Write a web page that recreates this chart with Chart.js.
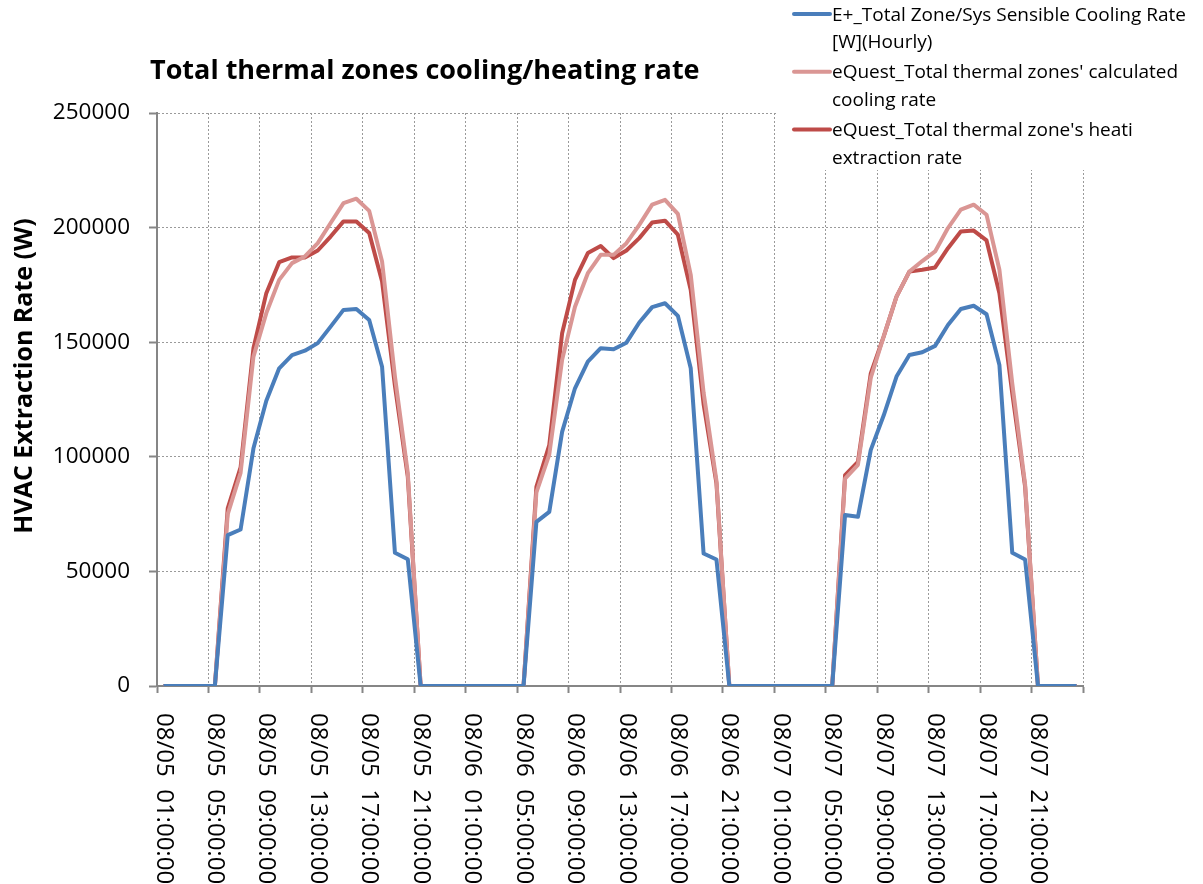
<!DOCTYPE html>
<html>
<head>
<meta charset="utf-8">
<script src="https://cdn.jsdelivr.net/npm/chart.js@4.4.1/dist/chart.umd.min.js"></script>
<style>
  html, body { margin: 0; padding: 0; background: #ffffff; overflow: hidden; }
  #wrap { position: relative; width: 1203px; height: 884px; }
</style>
</head>
<body>
<div id="wrap"><canvas id="chart" width="1203" height="884"></canvas></div>
<script>
// Hourly timestamps, three days
const days = ['08/05', '08/06', '08/07'];
const hours = ['01','02','03','04','05','06','07','08','09','10','11','12',
               '13','14','15','16','17','18','19','20','21','22','23','24'];
const categories = [];
days.forEach(d => hours.forEach(h => categories.push(d + '  ' + h + ':00:00')));

// E+ total zone/system sensible cooling rate [W]
const ePlusSensibleCooling = [
  0, 0, 0, 0, 0, 65800, 68300, 103700, 124500, 138600, 144400, 146300,
  149600, 156800, 164100, 164500, 159700, 139300, 58100, 55300, 0, 0, 0, 0,
  0, 0, 0, 0, 0, 71600, 76000, 110900, 129900, 141500, 147400, 146900,
  149800, 158600, 165300, 167000, 161500, 138600, 57800, 55200, 0, 0, 0, 0,
  0, 0, 0, 0, 0, 74600, 73800, 103000, 118000, 135000, 144400, 145600,
  148400, 157500, 164500, 165900, 162200, 140100, 58100, 55200, 0, 0, 0, 0
];

// eQuest total thermal zones' calculated cooling rate [W]
const eQuestZoneCooling = [
  0, 0, 0, 0, 0, 75000, 93000, 143700, 162700, 177200, 184500, 187400,
  193200, 202000, 210700, 212600, 207300, 185200, 135000, 93000, 0, 0, 0, 0,
  0, 0, 0, 0, 0, 84500, 101000, 142300, 165500, 180100, 188100, 188100,
  193200, 201200, 210000, 212100, 206000, 179400, 128000, 89500, 0, 0, 0, 0,
  0, 0, 0, 0, 0, 90500, 96500, 134500, 152400, 169900, 180800, 185400,
  189600, 199800, 207800, 210000, 205600, 181600, 132000, 88000, 0, 0, 0, 0
];

// eQuest total thermal zones' heat extraction rate [W]
const eQuestExtraction = [
  0, 0, 0, 0, 0, 77500, 95400, 147400, 171400, 184900, 187000, 187000,
  190000, 196100, 202700, 202700, 197600, 176500, 131000, 91300, 0, 0, 0, 0,
  0, 0, 0, 0, 0, 86900, 105100, 153900, 177200, 188900, 192000, 186700,
  190000, 195400, 202200, 203000, 196900, 172800, 123000, 88400, 0, 0, 0, 0,
  0, 0, 0, 0, 0, 92000, 97800, 136400, 152400, 169900, 180800, 181600,
  182600, 191000, 198300, 198700, 194400, 171400, 127700, 86900, 0, 0, 0, 0
];

const yTicks = [0, 50000, 100000, 150000, 200000, 250000];

const seriesNames = [
  ['E+_Total Zone/Sys Sensible Cooling Rate', '[W](Hourly)'],
  ["eQuest_Total thermal zones' calculated", 'cooling rate'],
  ["eQuest_Total thermal zone's heati", 'extraction rate']
];
const seriesColors = ['#4a7ebb', '#da9694', '#be4b48'];

const chartTitle = 'Total thermal zones cooling/heating rate';
const yAxisTitle = 'HVAC Extraction Rate (W)';

const FONT = "'Open Sans', 'Liberation Sans', sans-serif";
const AXIS_GREY = '#868686';
const GRID_GREY = '#9a9a9a';

// Title, rotated axis texts and the wrapped legend
const decorations = {
  id: 'decorations',
  afterDraw(chart) {
    const ctx = chart.ctx;
    const xs = chart.scales.x;
    const area = chart.chartArea;

    // chart title
    ctx.save();
    ctx.fillStyle = '#000';
    ctx.font = 'bold 27px ' + FONT;
    ctx.textAlign = 'left';
    ctx.textBaseline = 'alphabetic';
    ctx.fillText(chartTitle, 150, 79);
    ctx.restore();

    // y axis title
    ctx.save();
    ctx.fillStyle = '#000';
    ctx.font = 'bold 25px ' + FONT;
    ctx.translate(25, 376);
    ctx.rotate(-Math.PI / 2);
    ctx.textAlign = 'center';
    ctx.textBaseline = 'middle';
    ctx.fillText(yAxisTitle, 0, 0);
    ctx.restore();

    // category labels every 4 hours, reading downwards
    ctx.save();
    ctx.fillStyle = '#000';
    ctx.font = '24px ' + FONT;
    ctx.textAlign = 'left';
    ctx.textBaseline = 'middle';
    categories.forEach((lab, i) => {
      if (i % 4 !== 0) return;
      const x = xs.getPixelForValue(i);
      ctx.save();
      ctx.translate(x, area.bottom + 27);
      ctx.rotate(Math.PI / 2);
      ctx.fillText(lab, 0, 0);
      ctx.restore();
    });
    ctx.restore();

    // legend box
    ctx.save();
    ctx.fillStyle = '#ffffff';
    ctx.fillRect(778, 0, 1203 - 778, 170);
    ctx.font = '19px ' + FONT;
    ctx.textAlign = 'left';
    ctx.textBaseline = 'alphabetic';
    chart.data.datasets.forEach((ds, k) => {
      const base = 20.5 + k * 57.8;
      const lineY = base - 6.5;
      ctx.strokeStyle = ds.borderColor;
      ctx.lineWidth = 4;
      ctx.lineCap = 'round';
      ctx.beginPath();
      ctx.moveTo(794, lineY);
      ctx.lineTo(830, lineY);
      ctx.stroke();
      ctx.fillStyle = '#000';
      seriesNames[k].forEach((t, j) => ctx.fillText(t, 832, base + j * 27.6));
    });
    ctx.restore();
  }
};

const datasets = [ePlusSensibleCooling, eQuestZoneCooling, eQuestExtraction].map((vals, k) => ({
  label: seriesNames[k].join(' '),
  data: vals,
  borderColor: seriesColors[k],
  backgroundColor: seriesColors[k],
  borderWidth: 4,
  borderJoinStyle: 'round',
  pointRadius: 0,
  tension: 0,
  fill: false
}));

const everyFourth = c => (c.index === undefined || c.index % 4 === 0);

new Chart(document.getElementById('chart'), {
  type: 'line',
  data: { labels: categories, datasets },
  options: {
    responsive: false,
    animation: false,
    events: [],
    layout: { padding: { left: 0, top: 113, right: 120, bottom: 0 } },
    plugins: {
      legend: { display: false },
      title: { display: false },
      tooltip: { enabled: false }
    },
    scales: {
      x: {
        type: 'category',
        offset: true,
        grid: {
          offset: true,
          color: c => everyFourth(c) ? GRID_GREY : 'rgba(0,0,0,0)',
          lineWidth: 1,
          drawTicks: true,
          tickLength: 7,
          tickWidth: 2,
          tickColor: c => everyFourth(c) ? AXIS_GREY : 'rgba(0,0,0,0)'
        },
        border: { display: true, color: AXIS_GREY, width: 2, dash: [2, 2] },
        ticks: { display: false, autoSkip: false },
        afterFit: s => { s.height = 198; }
      },
      y: {
        min: 0,
        max: 250000,
        afterBuildTicks: s => { s.ticks = yTicks.map(v => ({ value: v })); },
        ticks: {
          font: { family: FONT, size: 22.5 },
          color: '#000',
          padding: 19,
          callback: v => String(v)
        },
        grid: {
          color: GRID_GREY,
          lineWidth: 1,
          tickLength: 8,
          tickWidth: 2,
          tickColor: AXIS_GREY
        },
        border: { display: true, color: AXIS_GREY, width: 2, dash: [2, 2] },
        afterFit: s => { s.width = 157; }
      }
    }
  },
  plugins: [decorations]
});
</script>
</body>
</html>
